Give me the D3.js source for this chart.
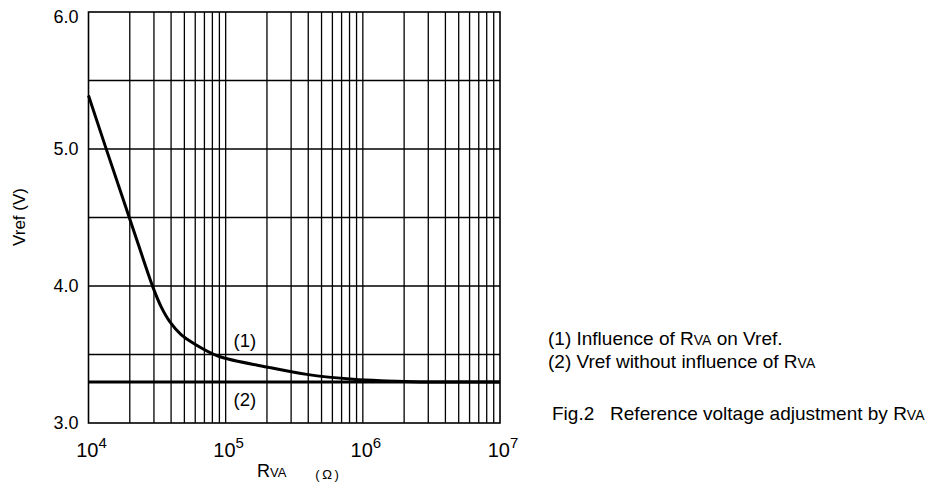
<!DOCTYPE html>
<html>
<head>
<meta charset="utf-8">
<script src="https://cdn.jsdelivr.net/npm/d3@7"></script>
<style>
  body { margin: 0; background: #fff; }
  svg { font-family: Arial, "Liberation Sans", sans-serif; }
</style>
</head>
<body>
<div id="chart"></div>
<script>
const width = 927, height = 483;
const margin = { top: 12, right: 427, bottom: 60, left: 88.5 };

// Curve (1): Vref vs RVA
const resistance = [1e4, 1.357e4, 1.794e4, 2.296e4, 2.953e4, 3.38e4, 3.95e4, 4.73e4, 5.78e4, 8.79e4, 2.105e5, 3.9e5, 8.52e5, 1.49e6, 2.61e6, 1e7];
const vref1 = [5.39, 4.99, 4.63, 4.31, 3.99, 3.85, 3.734, 3.645, 3.584, 3.489, 3.404, 3.355, 3.319, 3.307, 3.30, 3.30];

// Line (2): Vref without influence of RVA
const resistance2 = [1e4, 1e7];
const vref2 = [3.3, 3.3];

const yTicks = [3.0, 4.0, 5.0, 6.0];
const yGrid = [3.5, 4.0, 4.5, 5.0, 5.5];
const xDecades = [4, 5, 6, 7];

const labels = [
    { text: "(1)", r: 1.38e5, v: 3.60 },
    { text: "(2)", r: 1.38e5, v: 3.17 }
];

const x = d3.scaleLog()
    .domain([1e4, 1e7])
    .range([margin.left, width - margin.right]);

const y = d3.scaleLinear()
    .domain([3, 6])
    .range([height - margin.bottom, margin.top]);

const svg = d3.select("#chart")
    .append("svg")
    .attr("width", width)
    .attr("height", height);

// vertical grid: 2..9 x 10^n plus decades
const xGrid = [];
for (let n = 4; n < 7; n++) {
    for (let k = 2; k <= 9; k++) xGrid.push(k * Math.pow(10, n));
}
xGrid.push(1e5, 1e6);

svg.append("g")
    .selectAll("line")
    .data(xGrid)
    .join("line")
    .attr("x1", d => x(d)).attr("x2", d => x(d))
    .attr("y1", y(3)).attr("y2", y(6))
    .attr("stroke", "#000")
    .attr("stroke-width", 1.3);

svg.append("g")
    .selectAll("line")
    .data(yGrid)
    .join("line")
    .attr("x1", x(1e4)).attr("x2", x(1e7))
    .attr("y1", d => y(d)).attr("y2", d => y(d))
    .attr("stroke", "#000")
    .attr("stroke-width", 1.3);

// frame
svg.append("rect")
    .attr("x", x(1e4))
    .attr("y", y(6))
    .attr("width", x(1e7) - x(1e4))
    .attr("height", y(3) - y(6))
    .attr("fill", "none")
    .attr("stroke", "#000")
    .attr("stroke-width", 1.6);

// y tick labels
svg.append("g")
    .selectAll("text")
    .data(yTicks)
    .join("text")
    .attr("x", x(1e4) - 10)
    .attr("y", d => Math.max(y(d), 17))
    .attr("dy", "0.36em")
    .attr("text-anchor", "end")
    .attr("font-size", 18)
    .text(d => d.toFixed(1));

// x tick labels 10^n
const xl = svg.append("g")
    .selectAll("text")
    .data(xDecades)
    .join("text")
    .attr("x", d => x(Math.pow(10, d)) + 3)
    .attr("y", y(3) + 34)
    .attr("text-anchor", "middle")
    .attr("font-size", 20);
xl.append("tspan").text("10");
xl.append("tspan")
    .attr("font-size", 15)
    .attr("dy", -9)
    .text(d => d);

// axis titles
const xt = svg.append("text")
    .attr("x", 257)
    .attr("y", 477)
    .attr("font-size", 18);
xt.append("tspan").text("R");
xt.append("tspan").attr("font-size", 13).text("VA");

svg.append("text")
    .attr("x", 327)
    .attr("y", 479)
    .attr("text-anchor", "middle")
    .attr("font-size", 13)
    .text("(\u2009\u03A9\u2009)");

svg.append("text")
    .attr("transform", "translate(25,217) rotate(-90)")
    .attr("text-anchor", "middle")
    .attr("font-size", 17)
    .text("Vref (V)");

// lines
const line = d3.line()
    .x(d => x(d[0]))
    .y(d => y(d[1]))
    .curve(d3.curveCatmullRom.alpha(0.5));

svg.append("path")
    .datum(d3.zip(resistance2, vref2))
    .attr("d", line)
    .attr("fill", "none")
    .attr("stroke", "#000")
    .attr("stroke-width", 3);

svg.append("path")
    .datum(d3.zip(resistance, vref1))
    .attr("d", line)
    .attr("fill", "none")
    .attr("stroke", "#000")
    .attr("stroke-width", 3)
    .attr("stroke-linejoin", "round");

// in-plot labels
svg.append("g")
    .selectAll("text")
    .data(labels)
    .join("text")
    .attr("x", d => x(d.r))
    .attr("y", d => y(d.v))
    .attr("dy", "0.36em")
    .attr("text-anchor", "middle")
    .attr("font-size", 18.5)
    .text(d => d.text);

// legend notes at right
function noteLine(xp, yp, parts) {
    const t = svg.append("text")
        .attr("x", xp)
        .attr("y", yp)
        .attr("font-size", 19)
        .style("white-space", "pre");
    parts.forEach(p => t.append("tspan").attr("font-size", p[1]).text(p[0]));
}
noteLine(548, 345, [["(1) Influence of R", 19], ["VA", 14], [" on Vref.", 19]]);
noteLine(548, 368, [["(2) Vref without influence of R", 19], ["VA", 14]]);
noteLine(552, 420, [["Fig.2   Reference voltage adjustment by R", 19], ["VA", 14]]);
</script>
</body>
</html>
